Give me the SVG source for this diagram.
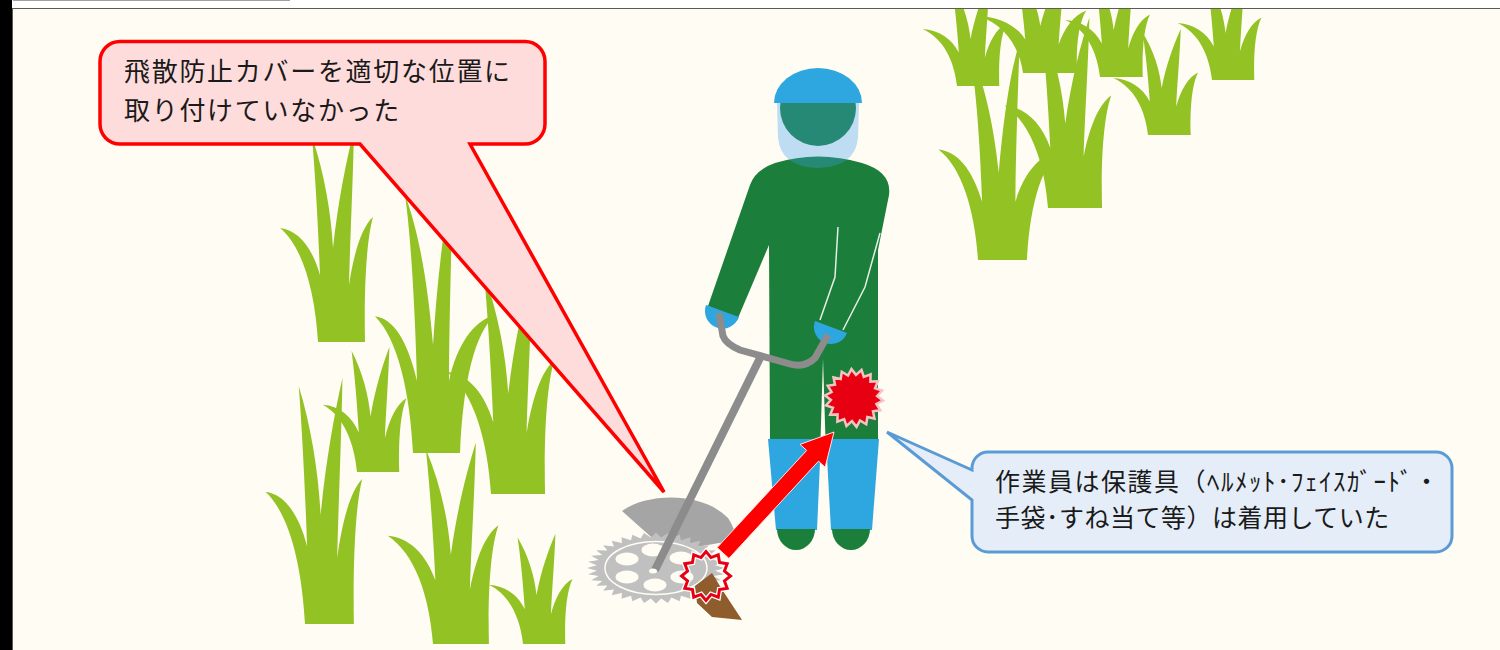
<svg xmlns="http://www.w3.org/2000/svg" xmlns:xlink="http://www.w3.org/1999/xlink" width="1500" height="650" viewBox="0 0 1500 650">
  <style>
    .grass { fill: #93C224; }
    .label { font-family: "Noto Sans CJK JP", "Noto Sans", sans-serif; fill: #1A1A1A; }
    .suit { fill: #1B7F3B; }
    .blue { fill: #2EA6DF; }
    .seam { fill: none; stroke: #E6EFE6; stroke-width: 1.5; }
    .steel { fill: none; stroke: #8C8C8C; }
    .hole { fill: #FFFCF3; }
  </style>
  <defs>
    <clipPath id="frameClip">
      <rect x="13" y="9" width="1487" height="641"/>
    </clipPath>
    <!-- grass tuft: base from x=0 to x=47, bottom at y=0 -->
    <path id="tuft1" d="M0,0 C-3,-50 -15,-95 -38,-114 C-20,-112 -6,-95 2,-67 C0,-120 -3,-170 -6,-205 C6,-170 13,-130 15,-94 C20,-140 28,-180 36,-212 C35,-160 32,-100 31,-57 C36,-90 44,-115 55,-125 C48,-100 46,-50 47,0 Z"/>
    <path id="tuft2" d="M0,0 C-3,-50 -15,-95 -38,-114 C-20,-112 -6,-95 4,-60 C2,-120 -2,-180 -8,-215 C8,-180 16,-130 20,-90 C24,-140 30,-190 40,-225 C38,-160 36,-100 36,-60 C44,-90 60,-110 82,-115 C62,-100 50,-60 47,0 Z"/>
    <!-- 12-point burst, radius 100 -->
    <polygon id="burst" vector-effect="non-scaling-stroke" points="100,0 75.3,20.2 86.6,50 55.2,55.2 50,86.6 20.2,75.3 0,100 -20.2,75.3 -50,86.6 -55.2,55.2 -86.6,50 -75.3,20.2 -100,0 -75.3,-20.2 -86.6,-50 -55.2,-55.2 -50,-86.6 -20.2,-75.3 0,-100 20.2,-75.3 50,-86.6 55.2,-55.2 86.6,-50 75.3,-20.2"/>
    <!-- 18-point burst, radius 100 -->
    <polygon id="burst18" vector-effect="non-scaling-stroke" points="100,0 78.8,13.9 94,34.2 69.3,40 76.6,64.3 51.4,61.3 50,86.6 27.4,75.2 17.4,98.5 0,80 -17.4,98.5 -27.4,75.2 -50,86.6 -51.4,61.3 -76.6,64.3 -69.3,40 -94,34.2 -78.8,13.9 -100,0 -78.8,-13.9 -94,-34.2 -69.3,-40 -76.6,-64.3 -51.4,-61.3 -50,-86.6 -27.4,-75.2 -17.4,-98.5 0,-80 17.4,-98.5 27.4,-75.2 50,-86.6 51.4,-61.3 76.6,-64.3 69.3,-40 94,-34.2 78.8,-13.9"/>
  </defs>

  <!-- page -->
  <rect x="0" y="0" width="1500" height="650" fill="#FFFFFF"/>
  <rect x="0" y="0" width="12" height="650" fill="#000000"/>
  <line x1="13" y1="0.5" x2="290" y2="0.5" stroke="#A0A0A0" stroke-width="1"/>
  <rect x="12.5" y="8.5" width="1500" height="650" fill="#FFFCF3" stroke="#5A5A5A" stroke-width="1"/>

  <!-- grass -->
  <g id="grass" class="grass" clip-path="url(#frameClip)">
    <use xlink:href="#tuft1" transform="translate(305,624) scale(1.04,1.16)"/>
    <use xlink:href="#tuft1" transform="translate(433,644) scale(1.19,0.95)"/>
    <use xlink:href="#tuft1" transform="translate(523,644) scale(0.9,0.52)"/>
    <use xlink:href="#tuft1" transform="translate(491,494) scale(1.15,1.07)"/>
    <use xlink:href="#tuft1" transform="translate(357,472) scale(0.9,0.59)"/>
    <use xlink:href="#tuft1" transform="translate(318,342)"/>
    <use xlink:href="#tuft2" transform="translate(413,453) scale(1,1.2)"/>

    <use xlink:href="#tuft2" transform="translate(978,260) scale(1.04,0.97)"/>
    <use xlink:href="#tuft1" transform="translate(1048,208) scale(1.15,0.9)"/>
    <use xlink:href="#tuft1" transform="translate(1148,135) scale(0.91,0.5)"/>
    <use xlink:href="#tuft1" transform="translate(957,86) scale(0.9,0.5)"/>
    <use xlink:href="#tuft1" transform="translate(1023,73) scale(1.15,0.5)"/>
    <use xlink:href="#tuft1" transform="translate(1100,77) scale(0.91,0.5)"/>
    <use xlink:href="#tuft1" transform="translate(1212,80) scale(0.9,0.5)"/>
  </g>

  <!-- worker -->
  <g id="worker">
    <path class="suit" d="M770,440 L769,245 L738,318 L708,306 L750,185 Q755,170 775,163 Q818,150 862,163 Q892,172 889,195 L878,250 L878,440 Z"/>
    <polygon points="823,358 820.5,440 825.5,440" fill="#FFFCF3"/>
    <path class="seam" d="M838,227 L835,277 L820,320"/>
    <path class="seam" d="M880,233 L865,287 L843,330"/>
    <circle class="suit" cx="818" cy="108" r="38"/>
    <path d="M777,103 L778,138 Q781,167 818,168 Q855,167 858,138 L859,103 Z" fill="#3A9DF0" fill-opacity="0.33"/>
    <path class="blue" d="M774,103 A44,35 0 0 1 862,103 Z"/>
    <polygon class="blue" points="768,439 821,439 817,530 776,530"/>
    <polygon class="blue" points="826,439 879,439 872,530 831,530"/>
    <path class="suit" d="M777,529 A19,21 0 0 0 815,529 Z"/>
    <path class="suit" d="M832,529 A19,21 0 0 0 870,529 Z"/>
    <path class="blue" d="M706,305 L739,317 A17.5,17.5 0 0 1 706,305 Z"/>
    <path class="blue" d="M815,321 L847,333 A17,17 0 0 1 815,321 Z"/>
  </g>

  <!-- brush cutter -->
  <g id="trimmer">
    <path d="M622,511 C645,494 700,490 728,518 Q735,528 736,540 L668,552 Z" fill="#A5A5A5"/>
    <polygon fill="#C0C0C0" transform="translate(656,568) scale(0.69,0.355)" points="100,0 85.7,7.5 98.5,17.4 83.1,22.3 94,34.2 77.9,36.3 86.6,50 70.5,49.3 76.6,64.3 60.8,60.8 64.3,76.6 49.3,70.5 50,86.6 36.3,77.9 34.2,94 22.3,83.1 17.4,98.5 7.5,85.7 0,100 -7.5,85.7 -17.4,98.5 -22.3,83.1 -34.2,94 -36.3,77.9 -50,86.6 -49.3,70.5 -64.3,76.6 -60.8,60.8 -76.6,64.3 -70.5,49.3 -86.6,50 -77.9,36.3 -94,34.2 -83.1,22.3 -98.5,17.4 -85.7,7.5 -100,0 -85.7,-7.5 -98.5,-17.4 -83.1,-22.3 -94,-34.2 -77.9,-36.3 -86.6,-50 -70.5,-49.3 -76.6,-64.3 -60.8,-60.8 -64.3,-76.6 -49.3,-70.5 -50,-86.6 -36.3,-77.9 -34.2,-94 -22.3,-83.1 -17.4,-98.5 -7.5,-85.7 0,-100 7.5,-85.7 17.4,-98.5 22.3,-83.1 34.2,-94 36.3,-77.9 50,-86.6 49.3,-70.5 64.3,-76.6 60.8,-60.8 76.6,-64.3 70.5,-49.3 86.6,-50 77.9,-36.3 94,-34.2 83.1,-22.3 98.5,-17.4 85.7,-7.5"/>
    <ellipse cx="656" cy="568" rx="51" ry="26.5" fill="none" stroke="#FFFCF3" stroke-width="1.5"/>
    <ellipse class="hole" cx="653" cy="550" rx="11.5" ry="6.5"/>
    <ellipse class="hole" cx="681" cy="558" rx="11.5" ry="6.5"/>
    <ellipse class="hole" cx="627" cy="559" rx="11.5" ry="6.5"/>
    <ellipse class="hole" cx="627" cy="577" rx="11.5" ry="6.5"/>
    <ellipse class="hole" cx="655" cy="585" rx="11.5" ry="6.5"/>
    <ellipse class="hole" cx="682" cy="577" rx="11.5" ry="6.5"/>
    <line class="steel" x1="761" y1="356" x2="655" y2="570" stroke-width="8"/>
    <ellipse class="hole" cx="653" cy="571" rx="4" ry="2.5"/>
    <path class="steel" d="M719,313 L723,336 Q726,344 740,350 L790,364 Q805,368 815,358 L828,335" stroke-width="7"/>
  </g>

  <!-- impact marks -->
  <g id="impact">
    <polygon points="695,586 712,573 723,591 742,620 712,617 697,603" fill="#8F5C2C"/>
    <use xlink:href="#burst" transform="translate(706,576) scale(0.245)" fill="none" stroke="#FFFFFF" stroke-width="5.5"/>
    <use xlink:href="#burst" transform="translate(706,576) scale(0.245)" fill="none" stroke="#E60012" stroke-width="3"/>
    <use xlink:href="#burst18" transform="translate(854,398) rotate(5) scale(0.29)" fill="#E60012" stroke="#F6C3C3" stroke-width="2.5"/>
  </g>

  <!-- connectors -->
  <g id="connectors">
    <polygon points="717.1,547.6 806.7,450.4 800,444.4 834,432 825.2,467.2 818.5,461.2 728.9,558.4" fill="#FF0000" stroke="#FFE4E4" stroke-width="1"/>
  </g>

  <!-- callout: cover -->
  <g id="callout-cover">
    <path d="M120,41.5 H525 A20,20 0 0 1 545,61.5 V124 A20,20 0 0 1 525,144 H470 L664,492 L360,144 H120 A20,20 0 0 1 100,124 V61.5 A20,20 0 0 1 120,41.5 Z" fill="#FFDCDC" stroke="#FF0000" stroke-width="3.5" stroke-linejoin="miter"/>
    <text class="label" font-size="26" letter-spacing="1.7">
      <tspan x="124" y="81">飛散防止カバーを適切な位置に</tspan>
      <tspan x="124" y="120">取り付けていなかった</tspan>
    </text>
  </g>

  <!-- callout: protective gear -->
  <g id="callout-gear">
    <path d="M988,452 H1436 A16,16 0 0 1 1452,468 V536 A16,16 0 0 1 1436,552 H988 A16,16 0 0 1 972,536 V500 L887,432 L972,470 V468 A16,16 0 0 1 988,452 Z" fill="#E5EEF8" stroke="#5B9BD5" stroke-width="3"/>
    <text class="label" font-size="25">
      <tspan x="995" y="491" letter-spacing="1.5">作業員は保護具（ﾍﾙﾒｯﾄ･ﾌｪｲｽｶﾞｰﾄﾞ・</tspan>
      <tspan x="995" y="527" letter-spacing="0.5">手袋･すね当て等）は着用していた</tspan>
    </text>
  </g>
</svg>
